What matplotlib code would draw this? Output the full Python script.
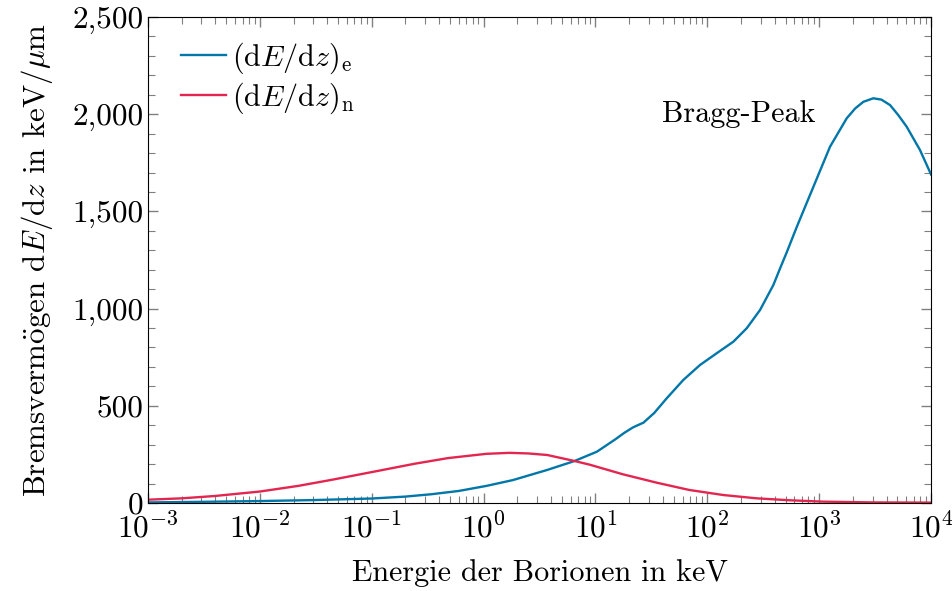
import numpy as np
import matplotlib
matplotlib.use('Agg')
import matplotlib.pyplot as plt
from matplotlib.ticker import FuncFormatter, LogLocator, MultipleLocator

plt.rcParams['font.family'] = ['cmr10', 'DejaVu Serif']
plt.rcParams['mathtext.fontset'] = 'cm'
plt.rcParams['axes.formatter.use_mathtext'] = True
plt.rcParams['font.size'] = 21.7

# electronic stopping (keV/um) vs energy (keV)
e_energy = [1e-3, 3e-3, 1e-2, 3e-2, 0.1, 0.2, 0.34, 0.6, 1.06, 1.83, 3.7, 6.5,
            10.3, 15.0, 18, 21.5, 23.4, 26.8, 33.5, 43.4, 61, 86, 121, 171,
            225, 296, 389, 447, 513, 630, 888, 1250, 1762, 2100, 2485, 3050,
            3600, 4300, 5100, 6050, 7960, 1e4]
e_stop = [3, 6, 10, 15, 23, 33, 45, 62, 88, 118, 170, 216,
          264, 327, 360, 388, 398, 413, 463, 539, 633, 710, 770, 830,
          899, 993, 1121, 1207, 1290, 1420, 1627, 1833, 1979, 2030, 2064, 2082,
          2075, 2047, 1995, 1936, 1816, 1690]

# nuclear stopping
n_energy = [1e-3, 2e-3, 3.95e-3, 1e-2, 0.022, 0.0436, 0.1, 0.242, 0.48, 1.06,
            1.7, 2.5, 3.7, 6.5, 8.9, 17.5, 35, 69, 139, 276, 546, 1080, 3050, 1e4]
n_stop = [17, 24, 36, 59, 88, 119, 159, 202, 231, 253,
          258, 255, 247, 216, 197, 148, 105, 67, 41, 24, 14, 7, 3, 2]

blue = '#0077a8'
red = '#e3264f'

fig = plt.figure(figsize=(9.52, 5.91), dpi=100)
ax = fig.add_axes([0.1555, 0.1489, 0.8225, 0.8223])

ax.plot(e_energy, e_stop, color=blue, lw=1.7, label=r'$(\mathrm{d}E/\mathrm{d}z)_\mathrm{e}$')
ax.plot(n_energy, n_stop, color=red, lw=1.7, label=r'$(\mathrm{d}E/\mathrm{d}z)_\mathrm{n}$')

ax.set_xscale('log')
ax.set_xlim(1e-3, 1e4)
ax.set_ylim(0, 2500)
ax.xaxis.set_major_locator(LogLocator(base=10, numticks=20))
ax.xaxis.set_minor_locator(LogLocator(base=10, subs=np.arange(2, 10), numticks=20))
ax.yaxis.set_major_locator(MultipleLocator(500))
ax.yaxis.set_minor_locator(MultipleLocator(100))
ax.yaxis.set_major_formatter(FuncFormatter(lambda v, p: f'{int(v):,}'))

ax.tick_params(which='both', direction='in', top=True, right=True, color='#808080',
               labelsize=22.5)
ax.tick_params(which='major', length=7.5, width=1)
ax.tick_params(which='minor', length=4.8, width=0.8)
ax.tick_params(axis='x', which='major', pad=6)

ax.set_xlabel('Energie der Borionen in keV', labelpad=12)
ax.set_ylabel(r'Bremsverm$\ddot{\mathrm{o}}$gen d$E$/d$z$ in keV/$\mu$m',
              fontsize=22.3, labelpad=12)

ax.text(192, 2000, 'Bragg-Peak', ha='center', va='center')

ax.legend(loc='upper left', bbox_to_anchor=(0.0, 1.02), frameon=False,
          handlelength=1.5, handletextpad=0.2, labelspacing=0.15, borderaxespad=0.7)

fig.savefig('out.png', dpi=100)
